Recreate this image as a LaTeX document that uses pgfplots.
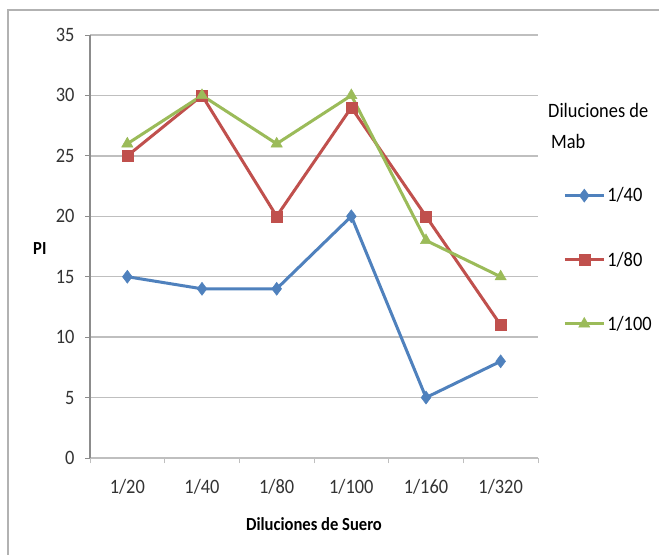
\documentclass[border=0pt]{standalone}
\usepackage{pgfplots}
\pgfplotsset{compat=1.18}
\usepackage{fontspec}
\setmainfont[FakeStretch=0.9]{Carlito}
\definecolor{xlblue}{HTML}{4F81BD}
\definecolor{xlred}{HTML}{C0504D}
\definecolor{xlgreen}{HTML}{9BBB59}
\definecolor{gridgray}{HTML}{BFBFBF}
\definecolor{axgray}{HTML}{8C8C8C}
\begin{document}
\begin{tikzpicture}
\useasboundingbox (0,0) rectangle (659bp,-555bp);
\fill[white] (0,0) rectangle (659bp,-555bp);
\draw[gray!60, line width=1.2bp] (8bp,-555bp) -- (8bp,-10bp) -- (659bp,-10bp);
\begin{axis}[
  at={(90bp,-458bp)}, anchor=south west,
  scale only axis, width=448bp, height=423bp,
  xmin=-0.5, xmax=5.5, ymin=0, ymax=35,
  ytick={0,5,...,35},
  xtick={0,1,2,3,4,5},
  xticklabels={1/20,1/40,1/80,1/100,1/160,1/320},
  minor xtick={-0.5,0.5,1.5,2.5,3.5,4.5,5.5},
  axis lines*=left,
  axis line style={axgray, line width=1.2bp},
  x axis line style={gridgray},
  ymajorgrids,
  grid style={gridgray, line width=1.5bp},
  tick align=outside,
  major tick length=5bp,
  minor tick length=5bp,
  xtick style={draw=none},
  minor x tick style={draw=gridgray, line width=1bp},
  ytick style={draw=axgray, line width=1bp},
  /pgf/number format/assume math mode=true,
  tick label style={font=\fontsize{20.5}{22}\selectfont, color=black!80},
  yticklabel style={xshift=-7bp},
  xticklabel style={yshift=-13bp},
  xlabel={\bfseries Diluciones de Suero},
  xlabel style={font=\fontsize{18.5}{20}\selectfont, at={(axis description cs:0.5,-0.156)}, anchor=center},
  ylabel={\bfseries PI},
  ylabel style={font=\fontsize{18.5}{20}\selectfont, rotate=-90, at={(axis description cs:-0.112,0.496)}, anchor=center},
  legend style={draw=none, fill=none, at={(1.056,0.644)}, anchor=north west,
    font=\fontsize{20.5}{22}\selectfont, row sep=44.5bp, inner sep=0pt,
    nodes={inner sep=2bp}},
  legend cell align=left,
  legend image code/.code={\draw[#1, mark repeat=2, mark phase=2] plot coordinates {(0bp,0bp) (19.5bp,0bp) (39bp,0bp)};},
  every axis plot/.append style={line width=3bp},
]
\addplot[xlblue, mark=diamond*, mark size=6.5bp, mark options={solid, line width=0.5bp}] coordinates {(0,15) (1,14) (2,14) (3,20) (4,5) (5,8)};
\addlegendentry{1/40}
\addplot[xlred, mark=square*, mark size=5.5bp, mark options={solid, line width=0.5bp}] coordinates {(0,25) (1,30) (2,20) (3,29) (4,20) (5,11)};
\addlegendentry{1/80}
\addplot[xlgreen, mark=triangle*, mark size=6.5bp, mark options={solid, line width=0.5bp}] coordinates {(0,26) (1,30) (2,26) (3,30) (4,18) (5,15)};
\addlegendentry{1/100}
\end{axis}
\node[anchor=west, inner sep=0pt, font=\fontsize{20.5}{22}\selectfont] at (548bp,-110bp) {Diluciones de};
\node[anchor=west, inner sep=0pt, font=\fontsize{20.5}{22}\selectfont] at (551bp,-141bp) {Mab};
\end{tikzpicture}
\end{document}
